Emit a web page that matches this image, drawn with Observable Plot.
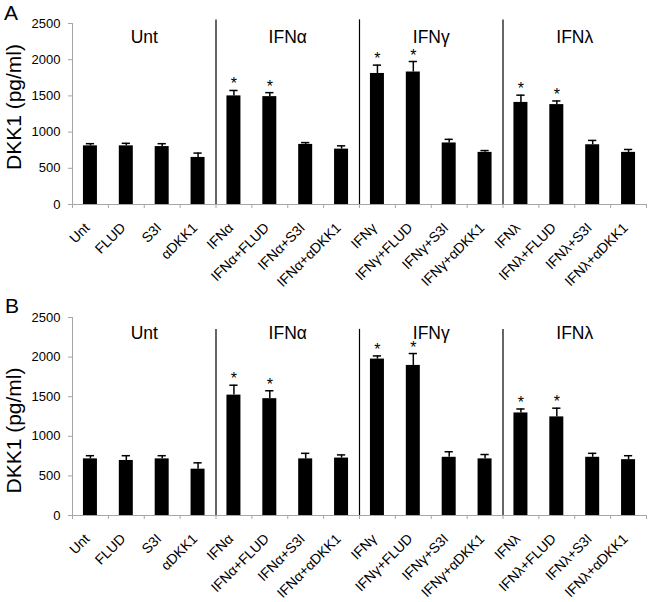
<!DOCTYPE html>
<html>
<head>
<meta charset="utf-8">
<script src="https://cdn.jsdelivr.net/npm/d3@7"></script>
<script src="https://cdn.jsdelivr.net/npm/@observablehq/plot@0.6"></script>
<style>
  html, body { margin: 0; padding: 0; background: #fff; }
  #chart svg { display: block; }
</style>
</head>
<body>
<div id="chart"></div>
<script>
const categories = ["Unt","FLUD","S3I","αDKK1","IFNα","IFNα+FLUD","IFNα+S3I","IFNα+αDKK1","IFNγ","IFNγ+FLUD","IFNγ+S3I","IFNγ+αDKK1","IFNλ","IFNλ+FLUD","IFNλ+S3I","IFNλ+αDKK1"];
const groups = ["Unt","IFNα","IFNγ","IFNλ"];
const valuesA = [810,810,800,650,1500,1490,830,765,1810,1830,850,720,1410,1380,825,720];
const errorsA = [30,35,40,60,75,55,25,45,115,145,50,25,100,50,60,40];
const starsA  = [0,0,0,0,1,1,0,0,1,1,0,0,1,1,0,0];
const valuesB = [715,695,715,585,1520,1475,715,725,1975,1895,735,715,1295,1245,735,705];
const errorsB = [40,60,40,80,125,100,70,40,40,150,70,55,50,110,50,50];
const starsB  = [0,0,0,0,1,1,0,0,1,1,0,0,1,1,0,0];
const yTicks = [0,500,1000,1500,2000,2500];
const yLabel = "DKK1 (pg/ml)";

const FONT = "'Liberation Sans', Arial, Helvetica, sans-serif";
const GRAY = "#a6a6a6";

function panel(letter, values, errors, stars, cfg) {
  const data = categories.map((c, i) => ({i, c, v: values[i], e: errors[i], s: stars[i]}));
  const groupData = groups.map((g, k) => ({g, k}));
  const per = 4;
  return Plot.plot({
    width: 651,
    height: cfg.height,
    marginLeft: 72,
    marginRight: 5,
    marginTop: cfg.marginTop,
    marginBottom: cfg.marginBottom,
    style: {fontFamily: FONT, fontSize: "13px", color: "black", background: "white", overflow: "visible"},
    x: {domain: [0, categories.length]},
    y: {domain: [0, yTicks[yTicks.length - 1]]},
    marks: [
      Plot.ruleY([0], {stroke: GRAY, strokeWidth: 1}),
      Plot.ruleX([0], {y1: 0, y2: yTicks[yTicks.length - 1], stroke: GRAY, strokeWidth: 1}),
      Plot.axisY({ticks: yTicks, tickFormat: d => String(d), tickSize: 4, tickPadding: 8, stroke: GRAY, fill: "black", fontSize: 13, label: null}),
      Plot.axisX({ticks: d3.range(categories.length + 1), tickSize: 4, tickFormat: () => "", stroke: GRAY, label: null}),
      Plot.axisX({ticks: d3.range(categories.length).map(i => i + 0.5), tickFormat: d => categories[Math.floor(d)], tickRotate: -45, tickSize: 0, tickPadding: 21, dx: -3, fontSize: 14, label: null, fill: "black"}),
      Plot.ruleX(d3.range(1, groups.length).map(k => k * per), {y1: 0, y2: cfg.sepTop, stroke: "black", strokeWidth: 1.2}),
      Plot.rectY(data, {x1: d => d.i + 0.305, x2: d => d.i + 0.695, y: "v", fill: "black"}),
      Plot.ruleX(data, {x: d => d.i + 0.5, y1: "v", y2: d => d.v + d.e, stroke: "black", strokeWidth: 1.5}),
      Plot.ruleY(data, {y: d => d.v + d.e, x1: d => d.i + 0.5 - 0.115, x2: d => d.i + 0.5 + 0.115, stroke: "black", strokeWidth: 1.5}),
      Plot.text(data.filter(d => d.s), {x: d => d.i + 0.5, y: d => d.v + d.e, text: () => "*", lineAnchor: "bottom", dy: -1, fontSize: 16, fill: "black"}),
      Plot.text(groupData, {x: d => d.k * per + per / 2, text: "g", frameAnchor: "top", textAnchor: "middle", lineAnchor: "middle", dy: cfg.groupDy, fontSize: 17.5, fill: "black"}),
      Plot.text([yLabel], {text: d => d, frameAnchor: "left", textAnchor: "middle", lineAnchor: "middle", rotate: -90, dx: -58, dy: cfg.labelDy, fontSize: 21, fill: "black"}),
      Plot.text([letter], {text: d => d, frameAnchor: "top-left", textAnchor: "middle", lineAnchor: "middle", dx: cfg.letterDx, dy: cfg.letterDy, fontSize: 21, fill: "black"})
    ]
  });
}

const el = document.getElementById("chart");
el.appendChild(panel("A", valuesA, errorsA, starsA, {height: 300, marginTop: 23, marginBottom: 96, sepTop: 2550, groupDy: 14, labelDy: -7, letterDx: -61.5, letterDy: -10.5}));
el.appendChild(panel("B", valuesB, errorsB, starsB, {height: 302, marginTop: 17, marginBottom: 87, sepTop: 2350, groupDy: 16, labelDy: 14, letterDx: -60.5, letterDy: -11.5}));
</script>
</body>
</html>
